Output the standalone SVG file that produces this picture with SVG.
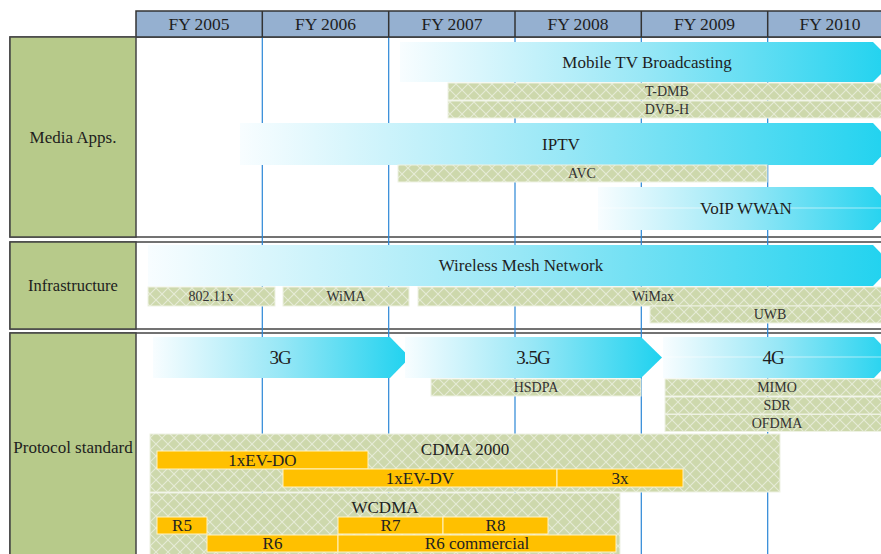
<svg xmlns="http://www.w3.org/2000/svg" width="881" height="554" viewBox="0 0 881 554">
  <defs>
    <linearGradient id="flow" x1="0" y1="0" x2="1" y2="0">
      <stop offset="0" stop-color="#f8fdff"/>
      <stop offset="0.5" stop-color="#97e7f6"/>
      <stop offset="1" stop-color="#1fd2ef"/>
    </linearGradient>
    <pattern id="lattice" width="12" height="12" patternUnits="userSpaceOnUse">
      <rect width="12" height="12" fill="#cdd8ac"/>
      <path d="M0 0L12 12M12 0L0 12" stroke="#e6ebd6" stroke-width="1.1"/>
    </pattern>
    <style>
      text { font-family: "Liberation Serif", "Times New Roman", serif; fill: #1e1e1e; text-anchor: middle; dominant-baseline: central; }
      .hdr { font-size: 17.5px; }
      .lbl { font-size: 16.5px; }
      .big { font-size: 17px; }
      .gen { font-size: 19px; letter-spacing: -1px; }
      .sm { font-size: 14px; fill: #333; }
      .mid { font-size: 17px; fill: #222; }
      .section { fill: #fff; stroke: #444; stroke-width: 1.5; }
      .side { fill: #b7ca8a; stroke: #444; stroke-width: 1.5; }
      .grid { stroke: #2a86d6; stroke-width: 1.2; }
      .flow { fill: url(#flow); }
      .sheen { stroke: #ffffff; stroke-opacity: 0.55; stroke-width: 1; }
      .tech { fill: url(#lattice); stroke: #eef2e3; stroke-width: 1; }
      .rel { fill: #ffc000; stroke: #fff3c4; stroke-width: 1; }
    </style>
  </defs>

  <!-- section frames -->
  <g id="sections">
    <rect class="section" x="10" y="37" width="880" height="200"/>
    <rect class="section" x="10" y="242" width="880" height="87"/>
    <rect class="section" x="10" y="333" width="880" height="230"/>
  </g>

  <!-- year columns -->
  <g id="grid">
    <line class="grid" x1="262.3" y1="37" x2="262.3" y2="554"/>
    <line class="grid" x1="388.7" y1="37" x2="388.7" y2="554"/>
    <line class="grid" x1="515" y1="37" x2="515" y2="554"/>
    <line class="grid" x1="641.3" y1="37" x2="641.3" y2="554"/>
    <line class="grid" x1="767.7" y1="37" x2="767.7" y2="554"/>
  </g>

  <g id="header">
    <rect x="136" y="11" width="760" height="26" fill="#95b0d0" stroke="#333" stroke-width="1.5"/>
    <path d="M262.3 11V37M388.7 11V37M515 11V37M641.3 11V37M767.7 11V37" stroke="#333" stroke-width="1.5"/>
    <text class="hdr" x="199" y="24">FY 2005</text>
    <text class="hdr" x="325.5" y="24">FY 2006</text>
    <text class="hdr" x="452" y="24">FY 2007</text>
    <text class="hdr" x="578" y="24">FY 2008</text>
    <text class="hdr" x="704.5" y="24">FY 2009</text>
    <text class="hdr" x="830" y="24">FY 2010</text>
  </g>

  <!-- row labels -->
  <g id="label-media">
    <rect class="side" x="10" y="37" width="126" height="200"/>
    <text class="lbl" x="73" y="137" style="font-size:17px">Media Apps.</text>
  </g>
  <g id="label-infrastructure">
    <rect class="side" x="10" y="242" width="126" height="87"/>
    <text class="lbl" x="73" y="285">Infrastructure</text>
  </g>
  <g id="label-protocol">
    <rect class="side" x="10" y="333" width="126" height="230"/>
    <text class="lbl" x="73" y="447" style="font-size:17px">Protocol standard</text>
  </g>

  <!-- Media Apps. -->
  <g id="mobile-tv">
    <path class="flow" d="M400 42H873L893 62L873 82H400Z"/>
    <text class="big" x="647" y="62">Mobile TV Broadcasting</text>
  </g>
  <g id="t-dmb">
    <rect class="tech" x="448" y="83" width="445" height="17"/>
    <text class="sm" x="667" y="91.5">T-DMB</text>
  </g>
  <g id="dvb-h">
    <rect class="tech" x="448" y="101" width="445" height="17"/>
    <text class="sm" x="667" y="109.5">DVB-H</text>
  </g>
  <g id="iptv">
    <path class="flow" d="M240 123H873L893 144L873 165H240Z"/>
    <text class="big" x="561" y="144">IPTV</text>
  </g>
  <g id="avc">
    <rect class="tech" x="398" y="165" width="369" height="17"/>
    <text class="sm" x="582" y="173.5">AVC</text>
  </g>
  <g id="voip">
    <path class="flow" d="M598 187H873L893 208.5L873 230H598Z"/>
    <line class="sheen" x1="598" y1="208" x2="881" y2="208"/>
    <text class="big" x="746" y="208.5">VoIP WWAN</text>
  </g>

  <!-- Infrastructure -->
  <g id="mesh">
    <path class="flow" d="M148 245H873L893 265.5L873 286H148Z"/>
    <text class="big" x="521" y="265.5">Wireless Mesh Network</text>
  </g>
  <g id="wifi">
    <rect class="tech" x="148" y="287" width="127" height="19"/>
    <text class="sm" x="211" y="296.5">802.11x</text>
  </g>
  <g id="wima">
    <rect class="tech" x="283" y="287" width="126" height="19"/>
    <text class="sm" x="346" y="296.5">WiMA</text>
  </g>
  <g id="wimax">
    <rect class="tech" x="418" y="287" width="475" height="19"/>
    <text class="sm" x="653" y="296.5">WiMax</text>
  </g>
  <g id="uwb">
    <rect class="tech" x="650" y="306" width="243" height="17"/>
    <text class="sm" x="770" y="314.5">UWB</text>
  </g>

  <!-- Protocol standard -->
  <g id="gen-3g">
    <path class="flow" d="M153 337H390L410 357.5L390 378H153Z"/>
    <text class="gen" x="280" y="357.5">3G</text>
  </g>
  <g id="gen-35g">
    <path class="flow" d="M405 337H641L662 357.5L641 378H405Z"/>
    <text class="gen" x="533" y="357.5">3.5G</text>
  </g>
  <g id="gen-4g">
    <path class="flow" d="M663 337H874L894 357.5L874 378H663Z"/>
    <line class="sheen" x1="663" y1="357" x2="881" y2="357"/>
    <text class="gen" x="773" y="357.5">4G</text>
  </g>
  <g id="hsdpa">
    <rect class="tech" x="431" y="379" width="210" height="17"/>
    <text class="sm" x="536" y="387.5">HSDPA</text>
  </g>
  <g id="mimo">
    <rect class="tech" x="665" y="379" width="228" height="17"/>
    <text class="sm" x="777" y="387.5">MIMO</text>
  </g>
  <g id="sdr">
    <rect class="tech" x="665" y="397" width="228" height="17"/>
    <text class="sm" x="777" y="405.5">SDR</text>
  </g>
  <g id="ofdma">
    <rect class="tech" x="665" y="414.5" width="228" height="17"/>
    <text class="sm" x="777" y="423">OFDMA</text>
  </g>

  <g id="cdma2000">
    <rect class="tech" x="150" y="434" width="630" height="58"/>
    <text class="mid" x="465" y="449">CDMA 2000</text>
  </g>
  <g id="ev-do">
    <rect class="rel" x="157" y="451" width="211" height="18"/>
    <text class="mid" x="262.5" y="460">1xEV-DO</text>
  </g>
  <g id="ev-dv">
    <rect class="rel" x="283" y="469" width="274" height="18"/>
    <text class="mid" x="420" y="478">1xEV-DV</text>
  </g>
  <g id="cdma-3x">
    <rect class="rel" x="557" y="469" width="126" height="18"/>
    <text class="mid" x="620" y="478">3x</text>
  </g>

  <g id="wcdma">
    <rect class="tech" x="150" y="493" width="470" height="70"/>
    <text class="mid" x="385" y="507">WCDMA</text>
  </g>
  <g id="r5">
    <rect class="rel" x="157" y="517" width="50" height="17"/>
    <text class="mid" x="182" y="525.5">R5</text>
  </g>
  <g id="r7">
    <rect class="rel" x="338" y="517" width="105" height="17"/>
    <text class="mid" x="390.5" y="525.5">R7</text>
  </g>
  <g id="r8">
    <rect class="rel" x="443" y="517" width="105" height="17"/>
    <text class="mid" x="495.5" y="525.5">R8</text>
  </g>
  <g id="r6">
    <rect class="rel" x="207" y="535" width="131" height="17"/>
    <text class="mid" x="272.5" y="543.5">R6</text>
  </g>
  <g id="r6-commercial">
    <rect class="rel" x="338" y="535" width="278" height="17"/>
    <text class="mid" x="477" y="543.5">R6 commercial</text>
  </g>

  <!-- no connectors in this chart -->
  <g id="connectors"/>
</svg>
